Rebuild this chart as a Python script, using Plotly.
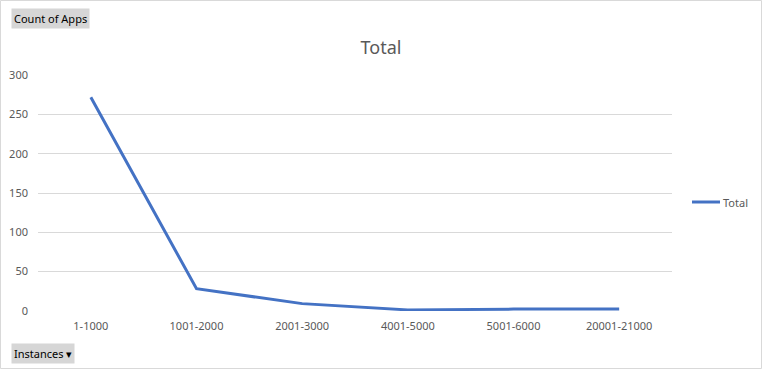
import plotly.graph_objects as go

categories = ["1-1000", "1001-2000", "2001-3000", "4001-5000", "5001-6000", "20001-21000"]
values = [272, 28, 9, 1, 2, 2]
series_name = "Total"

W, H = 762, 369
L, R, T, B = 38, 90, 75, 58
pw, ph = W - L - R, H - T - B

def px(x):
    return (x - L) / pw

def py(y):
    return (H - B - y) / ph

fig = go.Figure()
fig.add_trace(go.Scatter(
    x=categories, y=values, mode="lines", name=series_name,
    line=dict(color="#4472C4", width=3), showlegend=False,
))

font_family = "Noto Sans"
fig.update_layout(
    width=W, height=H,
    margin=dict(l=L, r=R, t=T, b=B, autoexpand=False),
    paper_bgcolor="white", plot_bgcolor="white",
    font=dict(family=font_family, size=11, color="#595959"),
    title=dict(text="Total", x=0.5, xref="container", y=1 - 48 / H, yref="container",
               xanchor="center", yanchor="middle",
               font=dict(family=font_family, size=18, color="#595959")),
    showlegend=False,
    xaxis=dict(type="category", range=[-0.5, len(categories) - 0.5], showgrid=False,
               showline=False, zeroline=False,
               ticks="", tickfont=dict(size=11, color="#595959"), ticklabelstandoff=7),
    yaxis=dict(range=[-0.4, 300.4], tickvals=[0, 50, 100, 150, 200, 250, 300],
               showgrid=True, gridcolor="#D9D9D9", gridwidth=1,
               zeroline=False, showline=False, ticks="", tickfont=dict(size=11, color="#595959"),
               ticklabelstandoff=9),
)

# chart border
fig.add_shape(type="rect", xref="paper", yref="paper",
              x0=px(0.5), x1=px(W - 0.5), y0=py(H - 0.5), y1=py(0.5),
              line=dict(color="#D9D9D9", width=1), fillcolor="rgba(0,0,0,0)", layer="below")

# legend (drawn manually)
fig.add_shape(type="line", xref="paper", yref="paper",
              x0=px(692), x1=px(720), y0=py(202), y1=py(202),
              line=dict(color="#4472C4", width=3))
fig.add_annotation(text=series_name, xref="paper", yref="paper", x=px(721), y=py(202),
                   xanchor="left", yanchor="middle", showarrow=False,
                   font=dict(family=font_family, size=11, color="#595959"))

# pivot field buttons
fig.add_annotation(text="Count of Apps", xref="paper", yref="paper", x=px(11), y=py(8),
                   xanchor="left", yanchor="top", showarrow=False,
                   font=dict(family=font_family, size=11, color="black"),
                   bgcolor="#D6D6D6", borderpad=2)
fig.add_annotation(text="Instances \u25BE", xref="paper", yref="paper", x=px(11), y=py(343),
                   xanchor="left", yanchor="top", showarrow=False,
                   font=dict(family=font_family, size=11, color="black"),
                   bgcolor="#D6D6D6", borderpad=2)

fig.write_html("out.html")
